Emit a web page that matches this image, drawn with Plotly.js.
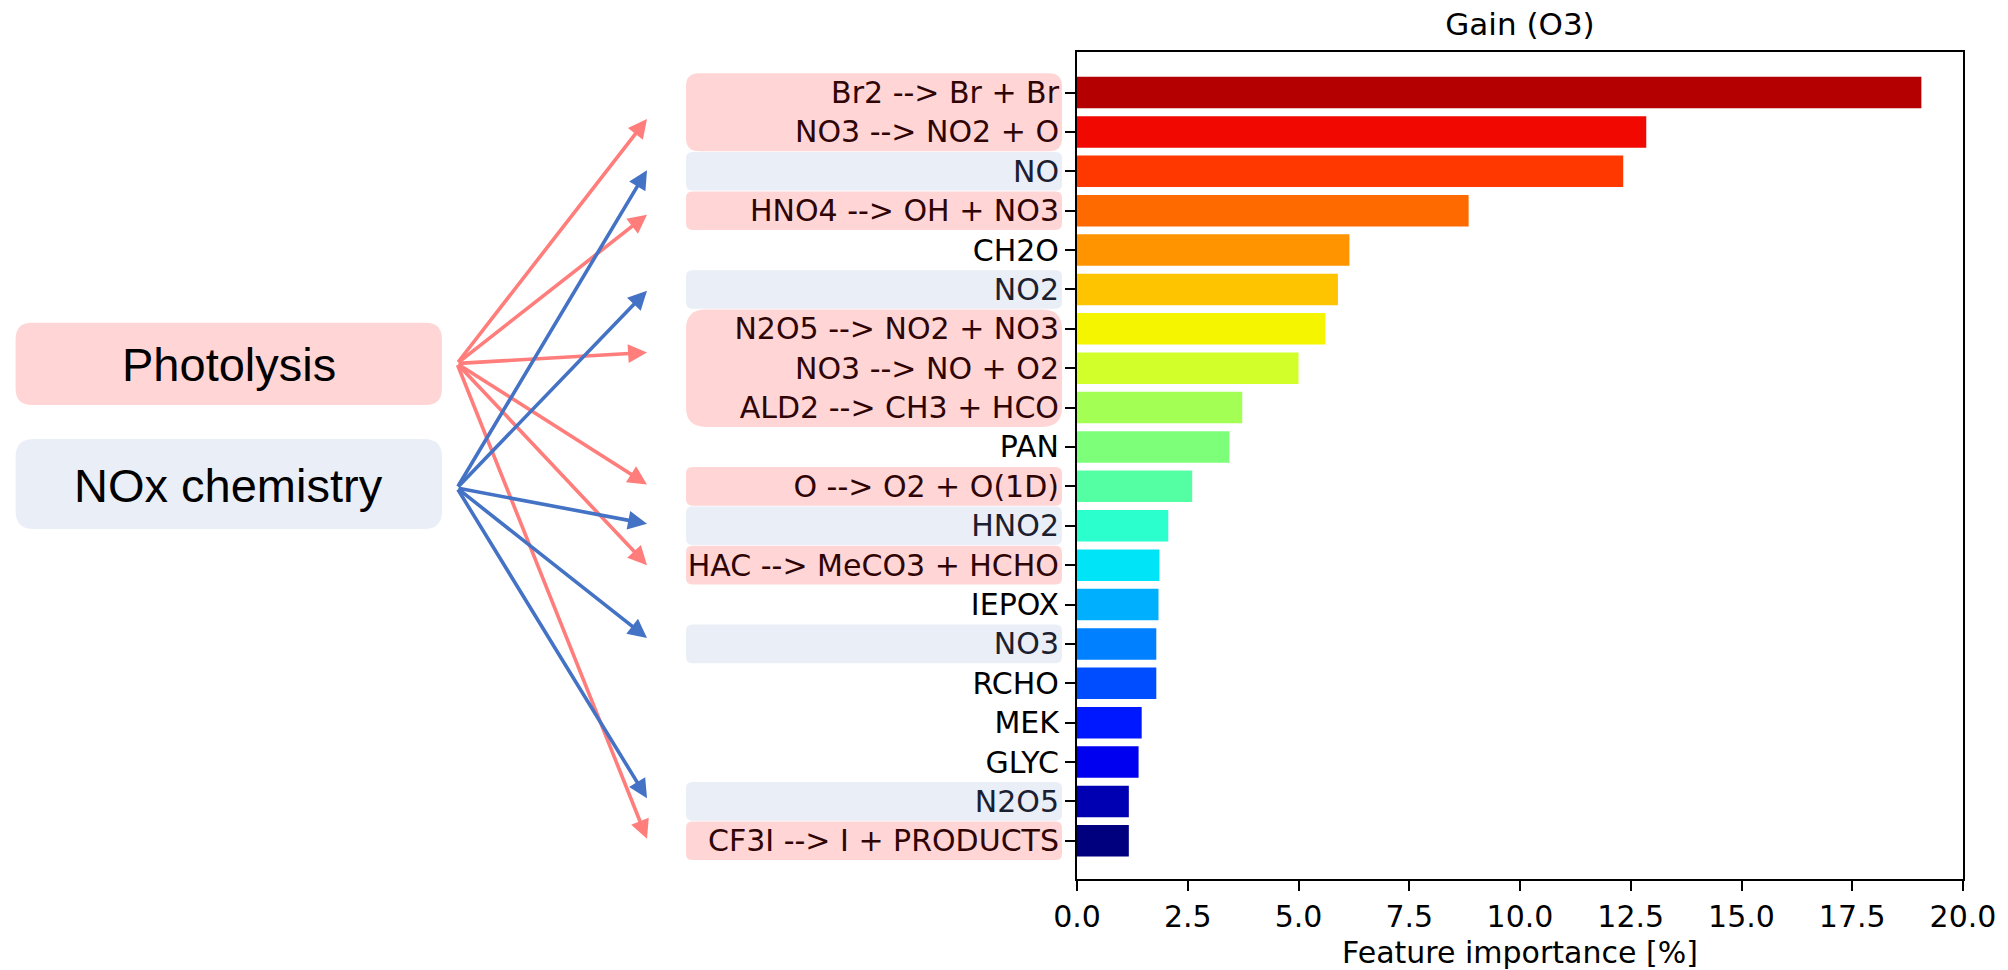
<!DOCTYPE html>
<html>
<head>
<meta charset="utf-8">
<script src="https://cdn.plot.ly/plotly-3.0.1.min.js"></script>
<style>
html,body{margin:0;padding:0;background:#ffffff;}
#chart{width:2008px;height:970px;}
</style>
</head>
<body>
<div id="chart"></div>
<script>
// ---------------- data ----------------
const categories = [
  "Br2 --> Br + Br", "NO3 --> NO2 + O", "NO", "HNO4 --> OH + NO3", "CH2O",
  "NO2", "N2O5 --> NO2 + NO3", "NO3 --> NO + O2", "ALD2 --> CH3 + HCO", "PAN",
  "O --> O2 + O(1D)", "HNO2", "HAC --> MeCO3 + HCHO", "IEPOX", "NO3",
  "RCHO", "MEK", "GLYC", "N2O5", "CF3I --> I + PRODUCTS"
];
const importance = [
  19.06, 12.85, 12.33, 8.84, 6.15,
  5.89, 5.61, 5.00, 3.73, 3.44,
  2.60, 2.06, 1.86, 1.84, 1.79,
  1.79, 1.46, 1.39, 1.17, 1.17
];
const barColors = [
  "#b40000", "#f10800", "#ff3800", "#ff6a00", "#ff9400",
  "#ffc400", "#f6f500", "#d2ff29", "#a3ff54", "#7dff7a",
  "#54ffa3", "#2affcd", "#00e4f8", "#00b0ff", "#0080ff",
  "#004cff", "#0018ff", "#0000f1", "#0000b2", "#00007f"
];
const groupNames = ["Photolysis", "NOx chemistry"];
const photolysisGroups = [
  ["Br2 --> Br + Br", "NO3 --> NO2 + O"],
  ["HNO4 --> OH + NO3"],
  ["N2O5 --> NO2 + NO3", "NO3 --> NO + O2", "ALD2 --> CH3 + HCO"],
  ["O --> O2 + O(1D)"],
  ["HAC --> MeCO3 + HCHO"],
  ["CF3I --> I + PRODUCTS"]
];
const noxGroups = [["NO"], ["NO2"], ["HNO2"], ["NO3"], ["N2O5"]];

// ---------------- layout geometry / style ----------------
const W = 2008, H = 970;
const M = {l: 1077, r: 45, t: 52, b: 91};
const plotW = W - M.l - M.r, plotH = H - M.t - M.b;
const yRange = [19.97, -1.03];
const unitPx = plotH / (yRange[0] - yRange[1]);
const FONT = "DejaVu Sans";
const FS = 30;
const pinkFill = "#ffd5d5", blueFill = "#eaeef7";
const pinkText = "#2e0404", blueText = "#1b2030";
const pinkArrow = "#ff7d7b", blueArrow = "#4472c4";

const pxToPaperX = px => (px - M.l) / plotW;
const pxToPaperY = py => (H - M.b - py) / plotH;
const pxToIdx = py => yRange[1] + (py - M.t) / unitPx;
const idxOf = name => categories.indexOf(name);

// label box extents (pixels)
const labelBoxX = [686, 1062];
const leftBoxX = [15.6, 442];
const leftBoxY = [[322.7, 405], [439, 529]];
const arrowOrigin = [[457, 363.5], [457, 488]];
const arrowTipX = 647;
const photoTipShift = [0.17, 0.1, -0.4, -0.05, 0.0, -0.05];
const noxTipShift = [-0.03, 0.03, -0.05, -0.15, -0.08];

function roundRectPath(x0, x1, y0, y1, rx, ry) {
  // rx, ry positive; works whichever way y runs
  const sy = y1 > y0 ? 1 : -1;
  return `M${x0 + rx},${y0} L${x1 - rx},${y0} Q${x1},${y0} ${x1},${y0 + sy * ry} ` +
         `L${x1},${y1 - sy * ry} Q${x1},${y1} ${x1 - rx},${y1} ` +
         `L${x0 + rx},${y1} Q${x0},${y1} ${x0},${y1 - sy * ry} ` +
         `L${x0},${y0 + sy * ry} Q${x0},${y0} ${x0 + rx},${y0} Z`;
}

const shapes = [];
function labelBox(group, fill) {
  const idx = group.map(idxOf);
  const top = Math.min(...idx) - 0.49, bot = Math.max(...idx) + 0.49;
  const hPx = (bot - top) * unitPx;
  const r = 0.167 * hPx;
  shapes.push({
    type: "path", xref: "paper", yref: "y", layer: "below",
    path: roundRectPath(pxToPaperX(labelBoxX[0]), pxToPaperX(labelBoxX[1]), top, bot, r / plotW, r / unitPx),
    fillcolor: fill, line: {width: 0}
  });
}
photolysisGroups.forEach(g => labelBox(g, pinkFill));
noxGroups.forEach(g => labelBox(g, blueFill));

[pinkFill, blueFill].forEach((fill, k) => {
  const [py0, py1] = leftBoxY[k];
  const r = 0.2 * (py1 - py0);
  shapes.push({
    type: "path", xref: "paper", yref: "paper", layer: "below",
    path: roundRectPath(pxToPaperX(leftBoxX[0]), pxToPaperX(leftBoxX[1]), pxToPaperY(py0), pxToPaperY(py1), r / plotW, r / plotH),
    fillcolor: fill, line: {width: 0}
  });
});

const annotations = [];
groupNames.forEach((name, k) => {
  annotations.push({
    text: name, xref: "paper", yref: "paper", showarrow: false,
    x: pxToPaperX((leftBoxX[0] + leftBoxX[1]) / 2),
    y: pxToPaperY((leftBoxY[k][0] + leftBoxY[k][1]) / 2 + 1),
    xanchor: "center", yanchor: "middle",
    font: {family: "Liberation Sans, Arial, sans-serif", size: 47, color: "#000000"}
  });
});

function arrows(groups, shifts, k, color) {
  groups.forEach((g, i) => {
    const idx = g.map(idxOf);
    const mid = (Math.min(...idx) + Math.max(...idx)) / 2 + shifts[i];
    annotations.push({
      text: "", showarrow: true,
      xref: "paper", yref: "y", axref: "paper", ayref: "y",
      x: pxToPaperX(arrowTipX), y: mid,
      ax: pxToPaperX(arrowOrigin[k][0]), ay: pxToIdx(arrowOrigin[k][1]),
      arrowhead: 2, arrowsize: 1.05, arrowwidth: 3.6, arrowcolor: color,
      standoff: 0, startstandoff: 0
    });
  });
}
arrows(photolysisGroups, photoTipShift, 0, pinkArrow);
arrows(noxGroups, noxTipShift, 1, blueArrow);

// tick labels coloured as if tinted by their boxes
const photoSet = new Set(photolysisGroups.flat());
const noxSet = new Set(noxGroups.flat());
const tickText = categories.map(c => {
  const col = photoSet.has(c) ? pinkText : (noxSet.has(c) ? blueText : "#000000");
  return `<span style="color:${col}">${c}</span>`;
});

const trace = {
  type: "bar", orientation: "h",
  x: importance, y: categories,
  width: 0.8,
  marker: {color: barColors, line: {width: 0}},
  hoverinfo: "skip"
};

const layout = {
  width: W, height: H,
  margin: M,
  paper_bgcolor: "#ffffff", plot_bgcolor: "#ffffff",
  showlegend: false,
  font: {family: FONT, size: FS, color: "#000000"},
  title: {
    text: "Gain (O3)", font: {family: FONT, size: 31, color: "#000000"},
    xref: "paper", x: 0.5, xanchor: "center",
    yref: "container", y: 1 - 24 / H, yanchor: "middle"
  },
  xaxis: {
    range: [0, 20], tickmode: "linear", tick0: 0, dtick: 2.5, tickformat: ".1f",
    ticks: "outside", ticklen: 10, tickwidth: 2, tickcolor: "#000000",
    showline: true, mirror: true, linecolor: "#000000", linewidth: 2,
    showgrid: false, zeroline: false, fixedrange: true,
    tickfont: {family: FONT, size: FS, color: "#000000"},
    title: {text: "Feature importance [%]", font: {family: FONT, size: FS, color: "#000000"}, standoff: 9},
    automargin: false
  },
  yaxis: {
    type: "category", range: yRange,
    tickmode: "array", tickvals: categories, ticktext: tickText,
    ticks: "outside", ticklen: 10, tickwidth: 2, tickcolor: "#000000",
    showline: true, mirror: true, linecolor: "#000000", linewidth: 2,
    showgrid: false, zeroline: false, fixedrange: true,
    tickfont: {family: FONT, size: FS, color: "#000000"},
    automargin: false
  },
  shapes: shapes,
  annotations: annotations,
  bargap: 0.2
};

Plotly.newPlot("chart", [trace], layout, {displayModeBar: false, staticPlot: true});
</script>
</body>
</html>
